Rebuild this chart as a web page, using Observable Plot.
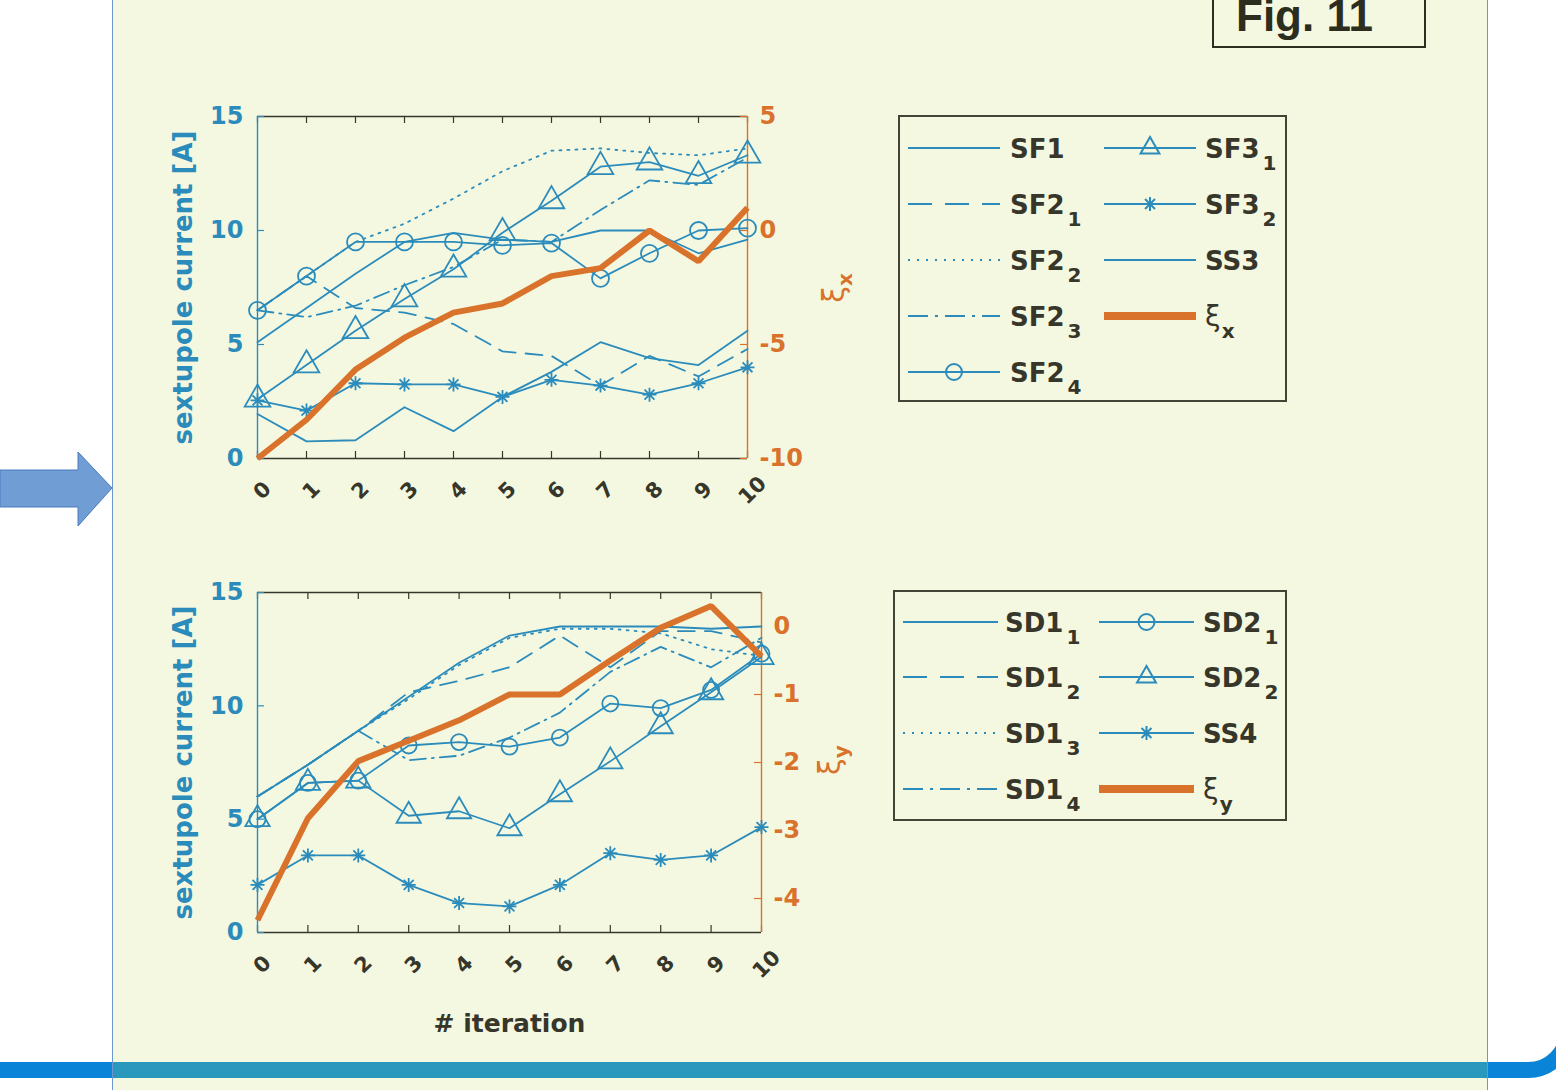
<!DOCTYPE html>
<html>
<head>
<meta charset="utf-8">
<script src="https://cdn.jsdelivr.net/npm/d3@7"></script>
<script src="https://cdn.jsdelivr.net/npm/@observablehq/plot@0.6"></script>
<style>
  html, body { margin:0; padding:0; background:#fff; width:1556px; height:1090px; overflow:hidden; }
  .layer { position:absolute; left:0; top:0; }
  #topChart { position:absolute; left:150px; top:90px; }
  #bottomChart { position:absolute; left:150px; top:566px; }
</style>
</head>
<body>
<svg class="layer" id="bg" width="1556" height="1090"></svg>
<div id="topChart"></div>
<div id="bottomChart"></div>
<svg class="layer" id="overlay" width="1556" height="1090"></svg>
<script>
// ---------------- data ----------------
const iterations = [0,1,2,3,4,5,6,7,8,9,10];
const xTicks = [0,1,2,3,4,5,6,7,8,9,10];
const currentTicks = [0,5,10,15];
const currentDomain = [0,15];

// top panel (horizontal chromaticity)
const SF1   = [5.1, 6.6, 8.1, 9.5, 9.9, 9.6, 9.5, 10.0, 10.0, 9.0, 9.6];
const SF2_1 = [6.5, 8.0, 6.6, 6.4, 5.9, 4.7, 4.5, 3.2, 4.5, 3.6, 4.8];
const SF2_2 = [6.5, 8.0, 9.5, 10.3, 11.4, 12.6, 13.5, 13.6, 13.4, 13.3, 13.6];
const SF2_3 = [6.5, 6.2, 6.7, 7.6, 8.4, 9.6, 9.5, 10.9, 12.2, 12.0, 13.2];
const SF2_4 = [6.5, 8.0, 9.5, 9.5, 9.5, 9.35, 9.45, 7.9, 9.0, 10.0, 10.1];
const SF3_1 = [2.6, 4.1, 5.6, 7.0, 8.3, 9.9, 11.3, 12.8, 13.0, 12.4, 13.3];
const SF3_2 = [2.55, 2.1, 3.3, 3.25, 3.25, 2.7, 3.45, 3.2, 2.8, 3.3, 4.0];
const SS3   = [1.95, 0.75, 0.8, 2.25, 1.2, 2.7, 3.8, 5.1, 4.4, 4.1, 5.6];
const xiX   = [-10, -8.3, -6.1, -4.7, -3.6, -3.2, -2.0, -1.65, 0, -1.35, 1.0];
const xiXDomain = [-10, 5];
const xiXTicks = [-10, -5, 0, 5];

// bottom panel (vertical chromaticity)
const SD1_1 = [6.0, 7.4, 8.9, 10.4, 11.9, 13.1, 13.5, 13.5, 13.5, 13.4, 13.5];
const SD1_2 = [6.0, 7.4, 8.9, 10.6, 11.1, 11.7, 13.1, 11.7, 13.3, 13.3, 12.8];
const SD1_3 = [6.0, 7.4, 8.9, 10.3, 11.8, 13.0, 13.4, 13.4, 13.2, 12.5, 12.2];
const SD1_4 = [6.0, 7.4, 8.9, 7.6, 7.8, 8.6, 9.7, 11.5, 12.6, 11.7, 13.0];
const SD2_1 = [5.0, 6.6, 6.7, 8.25, 8.4, 8.2, 8.6, 10.1, 9.9, 10.7, 12.3];
const SD2_2 = [5.0, 6.6, 6.7, 5.15, 5.35, 4.6, 6.1, 7.55, 9.1, 10.6, 12.15];
const SS4   = [2.1, 3.4, 3.4, 2.1, 1.3, 1.15, 2.1, 3.5, 3.2, 3.4, 4.65];
const xiY   = [-4.32, -2.82, -1.98, -1.68, -1.38, -1.0, -1.0, -0.5, -0.02, 0.3, -0.44];
const xiYDomain = [-4.5, 0.5];
const xiYTicks = [-4, -3, -2, -1, 0];

const yTitle = "sextupole current [A]";
const xTitle = "# iteration";
const figLabel = "Fig. 11";

// ---------------- styles ----------------
const blue = "#2b8cbc", orange = "#d9722b", dark = "#36362a", panel = "#f5f8e1";
const star8 = { draw(ctx, size) { const r = Math.sqrt(size / Math.PI);
  for (let k = 0; k < 4; k++) { const a = k * Math.PI / 4, c = Math.cos(a) * r, s = Math.sin(a) * r;
    ctx.moveTo(c, s); ctx.lineTo(-c, -s); } } };
const PLOT_SYMBOLS = { circle: "circle", triangle: "triangle", star: star8 };
const D3_SYMBOLS = { circle: d3.symbolCircle, triangle: d3.symbolTriangle2, star: star8 };
const DASH = { solid: null, dashed: "17,10", dotted: "2,6", dashdot: "16,6,2,6" };
const LEGEND_DASH = { solid: null, dashed: "24,13", dotted: "2,7", dashdot: "20,7,3,7" };

const topSeries = [
  { base: "SF1", sub: "",  values: SF1,   dash: "solid" },
  { base: "SF2", sub: "1", values: SF2_1, dash: "dashed" },
  { base: "SF2", sub: "2", values: SF2_2, dash: "dotted" },
  { base: "SF2", sub: "3", values: SF2_3, dash: "dashdot" },
  { base: "SF2", sub: "4", values: SF2_4, dash: "solid", symbol: "circle" },
  { base: "SF3", sub: "1", values: SF3_1, dash: "solid", symbol: "triangle" },
  { base: "SF3", sub: "2", values: SF3_2, dash: "solid", symbol: "star" },
  { base: "SS3", sub: "",  values: SS3,   dash: "solid" }
];
const bottomSeries = [
  { base: "SD1", sub: "1", values: SD1_1, dash: "solid" },
  { base: "SD1", sub: "2", values: SD1_2, dash: "dashed" },
  { base: "SD1", sub: "3", values: SD1_3, dash: "dotted" },
  { base: "SD1", sub: "4", values: SD1_4, dash: "dashdot" },
  { base: "SD2", sub: "1", values: SD2_1, dash: "solid", symbol: "circle" },
  { base: "SD2", sub: "2", values: SD2_2, dash: "solid", symbol: "triangle" },
  { base: "SS4", sub: "",  values: SS4,   dash: "solid", symbol: "star" }
];

function buildChart(cfg) {
  const { series, xi, xiDomain, xiTicks, width, height, mt, mr, mb, ml, r, withXTitle } = cfg;
  const [c0, c1] = currentDomain;
  const toLeft = v => c0 + (v - xiDomain[0]) / (xiDomain[1] - xiDomain[0]) * (c1 - c0);
  const fromLeft = y => xiDomain[0] + (y - c0) / (c1 - c0) * (xiDomain[1] - xiDomain[0]);
  const fw = width - ml - mr, fh = height - mt - mb;
  const marks = [
    Plot.ruleY([c0], { stroke: dark, strokeWidth: 1.4 }),
    Plot.ruleY([c1], { stroke: dark, strokeWidth: 1.4 }),
    Plot.tickX(xTicks, { x: d => d, stroke: dark, strokeWidth: 1.2, insetTop: fh - 7 }),
    Plot.tickX(xTicks, { x: d => d, stroke: dark, strokeWidth: 1.2, insetBottom: fh - 7 }),
    Plot.tickY(currentTicks, { y: d => d, stroke: blue, strokeWidth: 1.2, insetRight: fw - 7 }),
    Plot.tickY(xiTicks.map(toLeft), { y: d => d, stroke: orange, strokeWidth: 1.2, insetLeft: fw - 7 }),
    Plot.ruleX([xTicks[0]], { stroke: blue, strokeWidth: 1.4 }),
    Plot.ruleX([xTicks[xTicks.length - 1]], { stroke: orange, strokeWidth: 1.4 }),
    Plot.axisX(xTicks, { anchor: "bottom", tickSize: 0, tickPadding: 32, tickRotate: -45,
      textAnchor: "middle", lineAnchor: "middle", dx: 5, color: dark, fontSize: 21, fontWeight: "bold", label: null }),
    Plot.axisY(currentTicks, { anchor: "left", tickSize: 0, tickPadding: 14, color: blue,
      fontSize: 24, fontWeight: "bold", label: null }),
    Plot.axisY(xiTicks.map(toLeft), { anchor: "right", tickSize: 0, tickPadding: 12, color: orange,
      fontSize: 24, fontWeight: "bold", label: null, tickFormat: y => String(Math.round(fromLeft(y))) }),
    Plot.text([yTitle], { text: d => d, frameAnchor: "left", rotate: -90, dx: -74, fill: blue,
      fontSize: 26, fontWeight: "bold", textAnchor: "middle", lineAnchor: "middle" })
  ];
  if (withXTitle) marks.push(Plot.text([xTitle], { text: d => d, frameAnchor: "bottom", dy: 91,
      fill: dark, fontSize: 25, fontWeight: "bold", lineAnchor: "middle" }));
  for (const s of series) {
    const rows = iterations.map((it, i) => ({ iter: it, value: s.values[i] }));
    const lo = { x: "iter", y: "value", stroke: blue, strokeWidth: 1.8 };
    if (DASH[s.dash]) lo.strokeDasharray = DASH[s.dash];
    marks.push(Plot.line(rows, lo));
    if (s.symbol) marks.push(Plot.dot(rows, { x: "iter", y: "value", symbol: PLOT_SYMBOLS[s.symbol],
      r: r[s.symbol], stroke: blue, fill: "none", strokeWidth: 1.8 }));
  }
  const xiRows = iterations.map((it, i) => ({ iter: it, xi: xi[i] }));
  marks.push(Plot.line(xiRows, { x: "iter", y: d => toLeft(d.xi), stroke: orange, strokeWidth: 6,
    strokeLinejoin: "miter", strokeLinecap: "butt" }));
  return Plot.plot({
    width, height, marginTop: mt, marginRight: mr, marginBottom: mb, marginLeft: ml,
    x: { domain: [xTicks[0], xTicks[xTicks.length - 1]] },
    y: { domain: currentDomain },
    style: { background: "transparent", fontFamily: "'DejaVu Sans', sans-serif", overflow: "visible" },
    marks
  });
}

document.getElementById("topChart").append(buildChart({
  series: topSeries, xi: xiX, xiDomain: xiXDomain, xiTicks: xiXTicks,
  width: 730, height: 440, mt: 26, mr: 133, mb: 72, ml: 107,
  r: { circle: 8.5, triangle: 9.5, star: 7 }, withXTitle: false
}));
document.getElementById("bottomChart").append(buildChart({
  series: bottomSeries, xi: xiY, xiDomain: xiYDomain, xiTicks: xiYTicks,
  width: 730, height: 490, mt: 26, mr: 119, mb: 124, ml: 107,
  r: { circle: 8, triangle: 9, star: 7 }, withXTitle: true
}));

// ---------------- slide background ----------------
const bg = d3.select("#bg");
bg.append("rect").attr("x", 112).attr("y", 0).attr("width", 1376).attr("height", 1090).attr("fill", panel);
bg.append("path").attr("d", "M0,1070 H1528 A40,40 0 0 0 1568,1030 V900")
  .attr("fill", "none").attr("stroke", "#0a84d6").attr("stroke-width", 16);
bg.append("rect").attr("x", 112).attr("y", 1062).attr("width", 1376).attr("height", 16).attr("fill", "#2a98bc");
bg.append("line").attr("x1", 112.5).attr("x2", 112.5).attr("y1", 0).attr("y2", 1090).attr("stroke", "#6d95cf");
bg.append("line").attr("x1", 1487.5).attr("x2", 1487.5).attr("y1", 0).attr("y2", 1090).attr("stroke", "#6d95cf");
bg.append("polygon").attr("points", "0,470 78,470 78,452 112,488 78,526 78,507 0,507")
  .attr("fill", "#6f9dd4").attr("stroke", "#4a7cc0").attr("stroke-width", 1);

// ---------------- overlay: legends, ξ labels, figure tag ----------------
const ov = d3.select("#overlay");
const FONT = "'DejaVu Sans', sans-serif";

function labelText(g, x, item) {
  const t = g.append("text").attr("x", x).attr("y", 9.5).attr("font-family", FONT)
    .attr("font-size", 26).attr("fill", dark);
  if (item.xi) {
    t.append("tspan").attr("font-weight", "normal").attr("font-size", 28).text("ξ");
    t.append("tspan").attr("font-size", 20).attr("font-weight", "bold").attr("dx", 1).attr("dy", 12).text(item.xi);
  } else {
    t.append("tspan").attr("font-weight", "bold").text(item.base);
    if (item.sub) t.append("tspan").attr("font-size", 20).attr("font-weight", "bold").attr("dx", 3).attr("dy", 12).text(item.sub);
  }
}

function drawLegend(box, columns) {
  ov.append("rect").attr("x", box.x).attr("y", box.y).attr("width", box.w).attr("height", box.h)
    .attr("fill", panel).attr("stroke", "#444436").attr("stroke-width", 2);
  columns.forEach((items, ci) => {
    items.forEach((item, ri) => {
      const g = ov.append("g").attr("transform", `translate(${box.x + box.colSample[ci]},${box.y + box.rows[ri]})`);
      const L = box.sampleLen;
      if (item.xi) {
        g.append("line").attr("x1", 0).attr("x2", L).attr("stroke", orange).attr("stroke-width", 8);
      } else {
        const ln = g.append("line").attr("x1", 0).attr("x2", L).attr("stroke", blue).attr("stroke-width", 2);
        if (LEGEND_DASH[item.dash]) ln.attr("stroke-dasharray", LEGEND_DASH[item.dash]);
        if (item.symbol) {
          const rr = box.r[item.symbol];
          g.append("path").attr("transform", `translate(${L / 2},0)`)
            .attr("d", d3.symbol(D3_SYMBOLS[item.symbol], Math.PI * rr * rr)())
            .attr("fill", "none").attr("stroke", blue).attr("stroke-width", 2);
        }
      }
      labelText(g, box.colLabel[ci] - box.colSample[ci], item);
    });
  });
}

drawLegend({ x: 899, y: 116, w: 387, h: 285, rows: [32, 88, 144, 200, 256], colSample: [9, 205],
  sampleLen: 92, colLabel: [111, 306], r: { circle: 8, triangle: 9, star: 7 } },
  [topSeries.slice(0, 5), [...topSeries.slice(5), { xi: "x" }]]);
drawLegend({ x: 894, y: 591, w: 392, h: 229, rows: [31, 86, 142, 198], colSample: [9, 205],
  sampleLen: 95, colLabel: [111, 309], r: { circle: 8, triangle: 9, star: 7 } },
  [bottomSeries.slice(0, 4), [...bottomSeries.slice(4), { xi: "y" }]]);

function xiAxisLabel(cx, cy, sub) {
  const t = ov.append("text").attr("transform", `translate(${cx},${cy}) rotate(-90)`)
    .attr("text-anchor", "middle").attr("font-family", FONT).attr("fill", orange).attr("font-size", 30);
  t.append("tspan").text("ξ");
  t.append("tspan").attr("font-size", 20).attr("font-weight", "bold").attr("dy", 8).text(sub);
}
xiAxisLabel(844, 288, "x");
xiAxisLabel(840, 760, "y");

ov.append("rect").attr("x", 1213).attr("y", -10).attr("width", 212).attr("height", 57)
  .attr("fill", "none").attr("stroke", "#2d2d20").attr("stroke-width", 2);
ov.append("text").attr("x", 1236).attr("y", 31).attr("font-family", "'Liberation Sans', Arial, sans-serif")
  .attr("font-weight", "bold").attr("font-size", 44).attr("fill", "#2d2d1d").text(figLabel);
</script>
</body>
</html>
